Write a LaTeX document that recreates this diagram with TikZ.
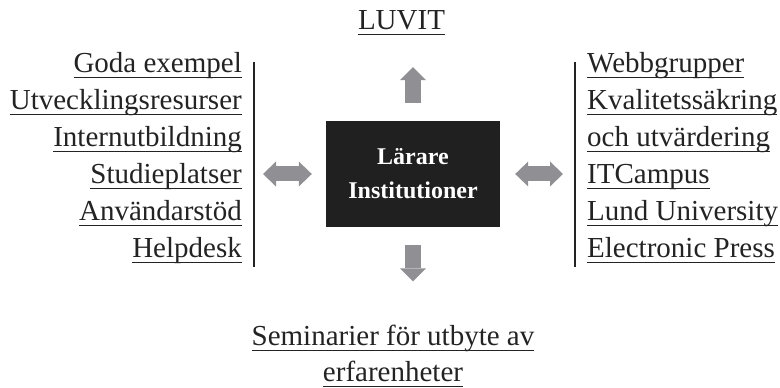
\documentclass[tikz,border=0pt]{standalone}
\usepackage{fontspec}
\setmainfont{Liberation Serif}
\usepackage{tikz}
\usetikzlibrary{arrows.meta}
\definecolor{arrowgray}{RGB}{143,143,148}
\definecolor{boxblack}{RGB}{32,32,32}
\definecolor{inkgray}{RGB}{35,35,35}
\newsavebox\ulbox
\newcommand{\ul}[1]{\sbox\ulbox{#1}\rlap{\rule[-5pt]{\wd\ulbox}{1.4pt}}\usebox\ulbox}
\tikzset{listtext/.style={inner sep=0pt,text=inkgray,font=\fontsize{29}{37}\selectfont}}
\tikzset{centerbox/.style={fill=boxblack,text=white,minimum width=174pt,minimum height=106pt,align=center,font=\fontsize{24}{34}\selectfont\bfseries}}
\tikzset{bar/.style={draw=inkgray,line width=1.2pt}}
\tikzset{bigarrow/.style={draw=arrowgray,line width=16pt,-{Triangle[width=26pt,length=13pt,line width=0pt]}}}
\tikzset{dblarrow/.style={draw=arrowgray,line width=15pt,{Triangle[width=25pt,length=13pt,line width=0pt]}-{Triangle[width=25pt,length=13pt,line width=0pt]}}}

\begin{document}
\begin{tikzpicture}[x=1pt,y=1pt]
                \useasboundingbox (0,0) rectangle (780,388);
                \node[centerbox] (box) at (413,214) {Lärare\\Institutioner};
                \node[listtext,anchor=base] (luvit) at (401.5,358) {\ul{LUVIT}};
                % base of a multi-line node = its last line
                \node[listtext,anchor=base east,align=right] (left) at (242,130)
                    {\ul{Goda exempel}\\\ul{Utvecklingsresurser}\\\ul{Internutbildning}\\\ul{Studieplatser}\\\ul{Användarstöd}\\\ul{Helpdesk}};
                \node[listtext,anchor=base west,align=left] (right) at (587,130)
                    {\ul{Webbgrupper}\\\ul{Kvalitetssäkring}\\\ul{och utvärdering}\\\ul{ITCampus}\\\ul{Lund University}\\\ul{Electronic Press}};
                \node[listtext,anchor=base,align=center,font=\fontsize{29}{36}\selectfont] (seminar) at (393,6)
                    {\ul{Seminarier för utbyte av}\\\ul{erfarenheter}};
                % bars beside the lists
                \coordinate (lbar top) at (254,326);
                \coordinate (lbar bottom) at (254,121);
                \coordinate (rbar top) at (575,326);
                \coordinate (rbar bottom) at (575,121);
                \draw[bar] (lbar top) -- (lbar bottom);
                \draw[bar] (rbar top) -- (rbar bottom);
                % arrows
                \path[bigarrow,shorten <=18pt,shorten >=32pt] (box.north) -- (box.north |- luvit.south);
                \path[bigarrow,shorten <=18pt,shorten >=44pt] (box.south) -- (box.south |- seminar.north);
                \path[dblarrow,shorten <=14pt,shorten >=9pt] (box.west) -- (box.west -| lbar top);
                \path[dblarrow,shorten <=15pt,shorten >=12pt] (box.east) -- (box.east -| rbar top);
            \end{tikzpicture}
\end{document}
